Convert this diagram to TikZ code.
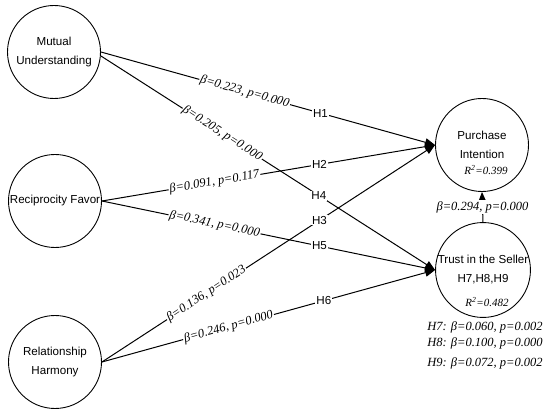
\documentclass[tikz,border=0pt]{standalone}
\usepackage{fontspec}
\setmainfont{Liberation Serif}
\setsansfont{Liberation Sans}
\usetikzlibrary{arrows.meta}
\tikzset{
  construct/.style={circle, draw, line width=0.9pt, minimum size=93pt, inner sep=0pt, align=center,
    font=\sffamily\fontsize{11.6}{19}\selectfont},
  relarrow/.style={draw, line width=1pt, -{Triangle[length=10pt,width=8pt]}},
  coef/.style={sloped, fill=white, inner sep=1pt, font=\itshape\fontsize{12.5}{14}\selectfont},
  coefflat/.style={fill=white, inner sep=1pt, font=\itshape\fontsize{12.5}{14}\selectfont},
  hyp/.style={fill=white, inner sep=1pt, font=\sffamily\fontsize{11.6}{13}\selectfont},
  rsq/.style={inner sep=0pt, font=\itshape\fontsize{11}{12}\selectfont},
  note/.style={inner sep=0pt, font=\itshape\fontsize{12.5}{14}\selectfont},
}
\begin{document}
\begin{tikzpicture}[x=1pt,y=-1pt]
\useasboundingbox[fill=white] (0,0) rectangle (550,417);

\node[construct] (mu) at (54,52) {Mutual\\Understanding};
\node[construct] (rf) at (55,201) {Reciprocity Favor};
\node[construct] (rh) at (55,362) {Relationship\\Harmony};
\node[construct] (pi) at (482,145) {Purchase\\Intention};
\node[construct] (tr) at (483,270) {Trust in the Seller\\H7,H8,H9};

\node[rsq] (pir) at (486,170) {R\textsuperscript{2}=0.399};
\node[rsq] (trr) at (487,302) {R\textsuperscript{2}=0.482};

% connectors
\draw[relarrow] (mu.east) -- (pi.west);
\draw[relarrow] ([yshift=-4pt]mu.east) -- (tr.west);
\draw[relarrow] (rf.east) -- (pi.west);
\draw[relarrow] (rf.east) -- (tr.west);
\draw[relarrow] (rh.east) -- (pi.west);
\draw[relarrow] (rh.east) -- (tr.west);
\draw[relarrow] (tr.north) -- (pi.south);

% labels
\path (mu.east) -- node[coef,pos=0.43] (l1) {β=0.223, p=0.000} node[hyp,pos=0.657] (h1) {H1} (pi.west);
\path ([yshift=-4pt]mu.east) -- node[coef,pos=0.363] (l4) {β=0.205, p=0.000} node[hyp,pos=0.652] (h4) {H4} (tr.west);
\path (rf.east) -- node[coef,pos=0.338] (l2) {β=0.091, p=0.117} node[hyp,pos=0.653] (h2) {H2} (pi.west);
\path (rf.east) -- node[coef,pos=0.338] (l5) {β=0.341, p=0.000} node[hyp,pos=0.653] (h5) {H5} (tr.west);
\path (rh.east) -- node[coef,pos=0.314] (l3) {β=0.136, p=0.023} node[hyp,pos=0.653] (h3) {H3} (pi.west);
\path (rh.east) -- node[coef,pos=0.38] (l6) {β=0.246, p=0.000} node[hyp,pos=0.666] (h6) {H6} (tr.west);
\path (tr.north) -- node[coefflat,pos=0.5] (l7) {β=0.294, p=0.000} (pi.south);

\node[note] (n7) at (485,327) {H7: β=0.060, p=0.002};
\node[note] (n8) at (485,343) {H8: β=0.100, p=0.000};
\node[note] (n9) at (485,363) {H9: β=0.072, p=0.002};
\end{tikzpicture}
\end{document}
